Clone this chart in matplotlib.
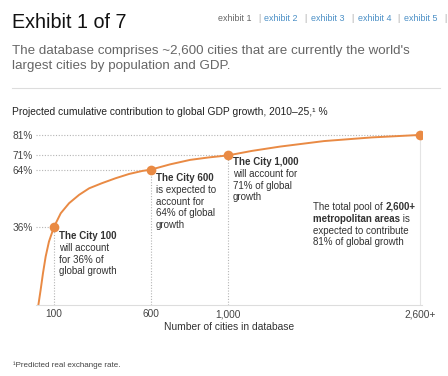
import numpy as np
import matplotlib
matplotlib.use("Agg")
import matplotlib.pyplot as plt

plt.rcParams["font.family"] = ["Liberation Sans", "DejaVu Sans"]

# data
curve_n = [18, 31, 43, 57, 74, 100, 135, 178, 230, 282, 348, 418, 488, 557, 600,
           700, 804, 900, 1000, 1200, 1433, 1800, 2200, 2600]
curve_v = [-3, 5.2, 13.3, 21.5, 28.8, 36, 42.7, 47.6, 51.7, 54.9, 57.4, 59.8, 61.9, 63.4, 64,
           66.6, 68.8, 70, 71, 73.2, 75.3, 78, 79.8, 81]
milestone_n = [100, 600, 1000, 2600]
milestone_v = [36, 64, 71, 81]
x_tick_labels = ["100", "600", "1,000", "2,600+"]
y_tick_labels = ["36%", "64%", "71%", "81%"]
nav_labels = ["exhibit 1", "exhibit 2", "exhibit 3", "exhibit 4", "exhibit 5"]

ORANGE = "#E98A44"
DARK = "#333333"
GREY = "#666666"
BLUE = "#4A8FC6"

W, H = 448, 376
fig = plt.figure(figsize=(W / 100, H / 100), dpi=100)
fig.patch.set_facecolor("white")


def fx(x):
    return x / W


def fy(y):
    return 1 - y / H


# header
fig.text(fx(12), fy(27.5), "Exhibit 1 of 7", fontsize=14.2, color="#111111", va="baseline")
for i, lab in enumerate(nav_labels):
    x0 = 218 + i * 46.5
    fig.text(fx(x0), fy(21), lab, fontsize=6.4, va="baseline",
             color=GREY if i == 0 else BLUE)
    fig.text(fx(x0 + 40), fy(21), "|", fontsize=6.4, va="baseline", color="#aaaaaa")
fig.text(fx(12), fy(54), "The database comprises ~2,600 cities that are currently the world's",
         fontsize=9.6, color=GREY, va="baseline")
fig.text(fx(12), fy(69), "largest cities by population and GDP.",
         fontsize=9.6, color=GREY, va="baseline")
fig.add_artist(plt.Line2D([fx(12), fx(440)], [fy(88), fy(88)], color="#dddddd", lw=0.8))
fig.text(fx(12), fy(115), "Projected cumulative contribution to global GDP growth, 2010\u201325,\u00b9 %",
         fontsize=7.4, color="#222222", va="baseline")
fig.text(fx(13), fy(365), "\u00b9Predicted real exchange rate.", fontsize=5.8, color="#444444", va="center")

# chart
ax = fig.add_axes([fx(36), fy(305), (422 - 36) / W, (305 - 128) / H])


def fwd(n):
    return np.interp(n, [0, 1000, 3000], [0, 1000, 2241])


def inv(p):
    return np.interp(p, [0, 1000, 2241], [0, 1000, 3000])


ax.set_xscale("function", functions=(fwd, inv))
ax.set_xlim(7, 2617)
ax.set_ylim(-2.2, 84.4)

dot = dict(color="#b5b5b5", lw=0.8, ls=(0, (1, 1.5)))
for n, v in zip(milestone_n[:3], milestone_v[:3]):
    ax.plot([7, n], [v, v], **dot)
    ax.plot([n, n], [-2.2, v], **dot)
ax.plot([7, 2600], [81, 81], **dot)
ax.plot([2600, 2600], [-2.2, 81], color="#e4e4e4", lw=0.8)

ax.plot(curve_n, curve_v, color=ORANGE, lw=1.4, solid_joinstyle="round")
ax.plot(milestone_n, milestone_v, "o", color=ORANGE, ms=7, mec="none")

for s in ["top", "right", "left"]:
    ax.spines[s].set_visible(False)
ax.spines["bottom"].set_color("#dddddd")
ax.spines["bottom"].set_linewidth(0.8)
ax.set_xticks(milestone_n)
ax.set_xticklabels(x_tick_labels)
ax.set_yticks(milestone_v)
ax.set_yticklabels(y_tick_labels)
ax.xaxis.set_minor_locator(matplotlib.ticker.NullLocator())
ax.tick_params(axis="both", length=0, labelsize=7.3, colors="#444444")
ax.tick_params(axis="x", pad=3)
ax.tick_params(axis="y", pad=2)
ax.set_xlabel("Number of cities in database", fontsize=7.4, color="#333333", labelpad=2)

renderer = fig.canvas.get_renderer()


def rich(x, y, parts, size=7.0):
    xp = x
    for s, bold in parts:
        t = fig.text(fx(xp), fy(y), s, fontsize=size, va="center", color=DARK,
                     fontweight="bold" if bold else "normal")
        xp += t.get_window_extent(renderer).width


notes = [
    (59, 236, [[("The City 100", True)], [("will account", False)],
               [("for 36% of", False)], [("global growth", False)]]),
    (156, 178, [[("The City 600", True)], [("is expected to", False)],
                [("account for", False)], [("64% of global", False)], [("growth", False)]]),
    (233, 162, [[("The City 1,000", True)], [("will account for", False)],
                [("71% of global", False)], [("growth", False)]]),
    (313, 207, [[("The total pool of ", False), ("2,600+", True)],
                [("metropolitan areas", True), (" is", False)],
                [("expected to contribute", False)], [("81% of global growth", False)]]),
]
for x, y, lines in notes:
    for k, parts in enumerate(lines):
        rich(x, y + k * 11.8, parts)

fig.savefig("out.png", dpi=100, facecolor="white")
